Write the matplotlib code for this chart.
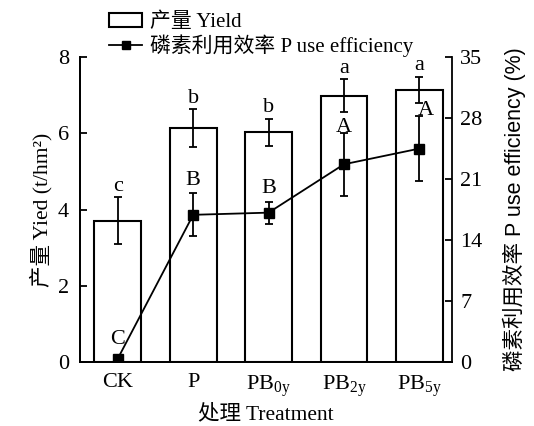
import numpy as np
import matplotlib
matplotlib.use("Agg")
import matplotlib.pyplot as plt
from matplotlib.lines import Line2D
from matplotlib.patches import Patch

SERIF = ["Liberation Serif", "Noto Sans CJK SC"]
SANS = ["Liberation Sans", "Noto Sans CJK SC"]

plt.rcParams.update({
    "font.family": SERIF,
    "font.size": 16,
    "mathtext.fontset": "custom",
    "mathtext.rm": "Liberation Serif",
    "mathtext.it": "Liberation Serif",
    "axes.linewidth": 1.3,
    "xtick.direction": "in",
    "ytick.direction": "in",
    "xtick.major.size": 5,
    "ytick.major.size": 5,
    "xtick.major.width": 1.3,
    "ytick.major.width": 1.3,
})

treatments = ["CK", "P", "PB$_{0y}$", "PB$_{2y}$", "PB$_{5y}$"]
yield_mean = [3.71, 6.14, 6.03, 6.99, 7.14]
yield_err = [0.61, 0.49, 0.35, 0.43, 0.34]
yield_letters = ["c", "b", "b", "a", "a"]
pue_mean = [0.4, 16.9, 17.15, 22.7, 24.5]
pue_err = [0.0, 2.45, 1.25, 3.6, 3.7]
pue_letters = ["C", "B", "B", "A", "A"]

x = np.arange(len(treatments))

fig = plt.figure(figsize=(5.34, 4.26), dpi=100)
ax = fig.add_axes([0.150, 0.150, 0.696, 0.716])
ax2 = ax.twinx()

ax.bar(x, yield_mean, width=0.62, color="white", edgecolor="black",
       linewidth=1.5, zorder=2)
ax.errorbar(x, yield_mean, yerr=yield_err, fmt="none", ecolor="black",
            elinewidth=1.3, capsize=3, capthick=1.3, zorder=3)
for xi, m, e, t in zip(x, yield_mean, yield_err, yield_letters):
    ax.text(xi, m + e + 0.17, t, ha="center", va="baseline", fontsize=16)

ax2.errorbar(x, pue_mean, yerr=pue_err, fmt="-s", color="black",
             ms=7, lw=1.3, elinewidth=1.3, capsize=3, capthick=1.3, zorder=4)
cap_pad = [1.7, 1.0, 1.0, 0.1, 0.1]
cap_dx = [0, 0, 0, 0, 0.09]
for xi, m, e, t, p, dx in zip(x, pue_mean, pue_err, pue_letters, cap_pad, cap_dx):
    ax2.text(xi + dx, m + e + p, t, ha="center", va="baseline", fontsize=16)

ax.set_xlim(-0.5, 4.43)
ax.set_ylim(0, 8)
ax.set_yticks([0, 2, 4, 6, 8])
ax2.set_ylim(0, 35)
ax2.set_yticks([0, 7, 14, 21, 28, 35])
ax.set_xticks(x)
ax.set_xticklabels(treatments)
ax.tick_params(axis="x", pad=8)
ax.tick_params(axis="y", pad=8)
ax2.tick_params(axis="y", pad=6)

for a in (ax, ax2):
    a.spines["top"].set_visible(False)
ax.spines["right"].set_visible(False)

ax.set_xlabel("处理 Treatment", fontsize=15.5, labelpad=4)
ax.set_ylabel("产量 Yied (t/hm²)", fontsize=15.5, labelpad=4)
ax2.set_ylabel("磷素利用效率 P use efficiency (%)", fontsize=15.5,
               family=SANS, labelpad=15)

handles = [Patch(facecolor="white", edgecolor="black", linewidth=1.5),
           Line2D([], [], color="black", marker="s", ms=6, lw=1.3)]
fig.legend(handles, ["产量 Yield", "磷素利用效率 P use efficiency"],
           loc="upper left", bbox_to_anchor=(0.2, 0.975), frameon=False,
           fontsize=15, handlelength=1.6, handleheight=0.6,
           handletextpad=0.35, labelspacing=0.12, borderpad=0.1,
           borderaxespad=0)

fig.savefig("out.png", dpi=100)
